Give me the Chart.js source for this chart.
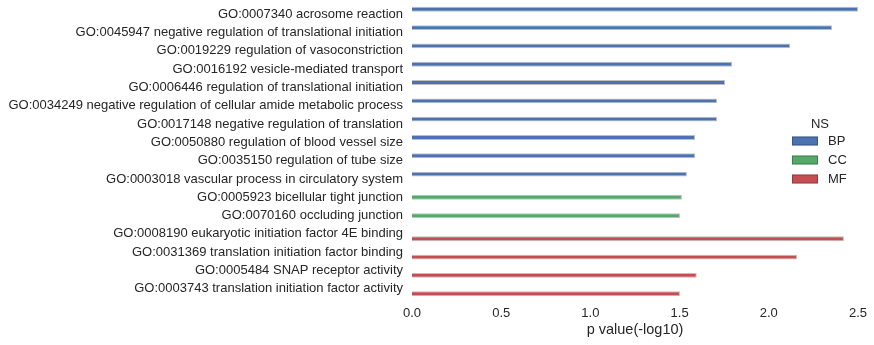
<!DOCTYPE html>
<html>
<head>
<meta charset="utf-8">
<script src="https://cdn.jsdelivr.net/npm/chart.js@4/dist/chart.umd.min.js"></script>
<style>
  html, body { margin: 0; padding: 0; background: #fff; }
  #wrap { width: 874px; height: 345px; position: relative; }
</style>
</head>
<body>
<div id="wrap"><canvas id="goChart"></canvas></div>
<script>
// GO-термины (сверху вниз)
const terms = [
    'GO:0007340 acrosome reaction',
    'GO:0045947 negative regulation of translational initiation',
    'GO:0019229 regulation of vasoconstriction',
    'GO:0016192 vesicle-mediated transport',
    'GO:0006446 regulation of translational initiation',
    'GO:0034249 negative regulation of cellular amide metabolic process',
    'GO:0017148 negative regulation of translation',
    'GO:0050880 regulation of blood vessel size',
    'GO:0035150 regulation of tube size',
    'GO:0003018 vascular process in circulatory system',
    'GO:0005923 bicellular tight junction',
    'GO:0070160 occluding junction',
    'GO:0008190 eukaryotic initiation factor 4E binding',
    'GO:0031369 translation initiation factor binding',
    'GO:0005484 SNAP receptor activity',
    'GO:0003743 translation initiation factor activity'
];

// -log10(p) по категориям NS (null — термин не из этой категории)
const bpValues = [2.50, 2.355, 2.12, 1.795, 1.755, 1.71, 1.71, 1.587, 1.587, 1.541,
                  null, null, null, null, null, null];
const ccValues = [null, null, null, null, null, null, null, null, null, null,
                  1.513, 1.502, null, null, null, null];
const mfValues = [null, null, null, null, null, null, null, null, null, null,
                  null, null, 2.421, 2.158, 1.596, 1.502];

const xTicks = [0, 0.5, 1.0, 1.5, 2.0, 2.5];

const font = "'Liberation Sans', Arial, sans-serif";
const textColor = '#262626';

// Легенда рисуется внутри области графика, как в seaborn
const insideLegend = {
    id: 'insideLegend',
    afterDraw(chart) {
        const c = chart.ctx;
        c.save();
        c.font = '13px ' + font;
        c.fillStyle = textColor;
        c.textAlign = 'center';
        c.textBaseline = 'middle';
        c.fillText('NS', 820, 124);
        c.textAlign = 'left';
        chart.data.datasets.forEach((ds, i) => {
            const y = 141 + i * 19;
            c.fillStyle = ds.backgroundColor;
            c.fillRect(792, y - 4.5, 26, 9);
            c.strokeStyle = 'rgba(0,0,0,0.25)';
            c.lineWidth = 1;
            c.strokeRect(792.5, y - 4, 25, 8);
            c.fillStyle = textColor;
            c.fillText(ds.label, 828, y + 0.5);
        });
        c.restore();
    }
};

const ctx = document.getElementById('goChart').getContext('2d');

new Chart(ctx, {
    type: 'bar',
    data: {
        labels: terms,
        datasets: [
            { label: 'BP', data: bpValues, backgroundColor: '#4C72B0' },
            { label: 'CC', data: ccValues, backgroundColor: '#55A868' },
            { label: 'MF', data: mfValues, backgroundColor: '#C44E52' }
        ].map(ds => Object.assign(ds, {
            borderColor: 'rgba(0,0,0,0.25)',
            borderWidth: 1,
            categoryPercentage: 0.8,
            barPercentage: 1.0
        }))
    },
    options: {
        indexAxis: 'y',
        responsive: true,
        maintainAspectRatio: false,
        animation: false,
        layout: { padding: { top: 5, right: 16, bottom: 6, left: 0 } },
        plugins: {
            legend: { display: false },
            tooltip: { enabled: false }
        },
        scales: {
            x: {
                min: 0,
                max: 2.5,
                grid: { display: false, drawTicks: false },
                border: { display: false },
                afterBuildTicks(scale) {
                    scale.ticks = xTicks.map(v => ({ value: v }));
                },
                afterFit(scale) {
                    scale.paddingLeft = 0;
                    scale.paddingRight = 0;
                    scale.height -= 9;
                },
                ticks: {
                    color: textColor,
                    font: { family: font, size: 13 },
                    padding: 8,
                    maxRotation: 0,
                    callback: v => v.toFixed(1)
                },
                title: {
                    display: true,
                    text: 'p value(-log10)',
                    color: textColor,
                    font: { family: font, size: 14.5 },
                    padding: { top: 1, bottom: 0 }
                }
            },
            y: {
                grid: { display: false, drawTicks: false },
                border: { display: false },
                afterFit(scale) {
                    scale.width = 412;
                    scale.paddingTop = 0;
                    scale.paddingBottom = 0;
                },
                ticks: {
                    color: textColor,
                    font: { family: font, size: 13 },
                    padding: 9,
                    autoSkip: false
                }
            }
        }
    },
    plugins: [insideLegend]
});
</script>
</body>
</html>
